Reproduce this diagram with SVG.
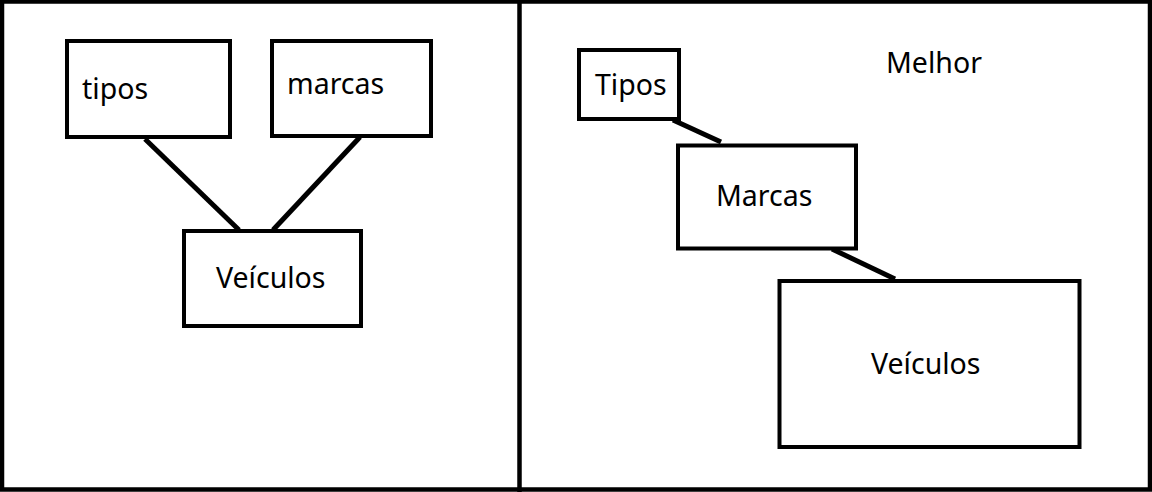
<svg xmlns="http://www.w3.org/2000/svg" width="1152" height="492" viewBox="0 0 1152 492">
<style>
.box{fill:#fff;stroke:#000;stroke-width:4}
.ln{stroke:#000;stroke-width:5;fill:none}
.frame{fill:none;stroke:#000;stroke-width:4.5}
text{font-family:"Noto Sans","Open Sans","DejaVu Sans",sans-serif;font-size:28.5px;fill:#000}
</style>
<rect x="0" y="0" width="1152" height="492" fill="#fff"/>
<rect class="frame" x="2" y="1.5" width="1148" height="488"/>
<line class="frame" x1="519.5" y1="0" x2="519.5" y2="492"/>
<g id="connectors">
<line class="ln" x1="145" y1="139" x2="239" y2="230"/>
<line class="ln" x1="360" y1="137" x2="273" y2="230"/>
<line class="ln" x1="673" y1="120" x2="721" y2="142"/>
<line class="ln" x1="832" y1="249" x2="895" y2="279"/>
</g>
<g id="left-tipos"><rect class="box" x="67" y="41" width="163" height="96"/><text x="82" y="99">tipos</text></g>
<g id="left-marcas"><rect class="box" x="272" y="41" width="159" height="95"/><text x="287" y="94">marcas</text></g>
<g id="left-veiculos"><rect class="box" x="184" y="231" width="177" height="95"/><text x="216" y="288">Veículos</text></g>
<g id="melhor"><text x="886" y="73">Melhor</text></g>
<g id="right-tipos"><rect class="box" x="579" y="50" width="100" height="69"/><text x="595" y="95">Tipos</text></g>
<g id="right-marcas"><rect class="box" x="678" y="145.5" width="178" height="103"/><text x="716" y="205.5">Marcas</text></g>
<g id="right-veiculos"><rect class="box" x="779.5" y="281" width="300" height="166"/><text x="871" y="374">Veículos</text></g>
</svg>
